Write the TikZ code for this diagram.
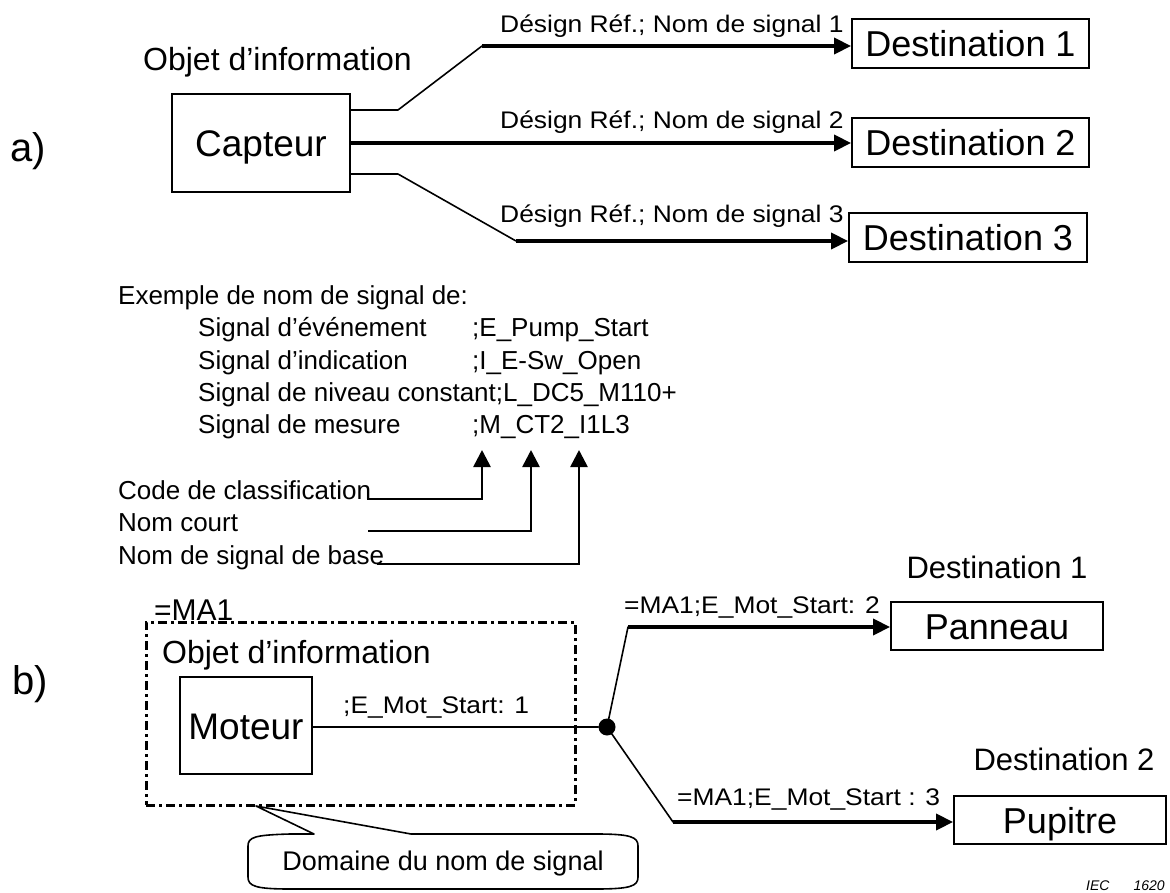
\documentclass[tikz,border=0pt]{standalone}
\usepackage{fontspec}
\setmainfont{Liberation Sans}
\newfontfamily\lblfont{Liberation Sans}[FakeStretch=1.1]
\usetikzlibrary{arrows.meta}
\newcommand\fsz[1]{\fontsize{#1}{#1}\selectfont}

\begin{document}
\begin{tikzpicture}[x=1pt,y=-1pt,
  blk/.style={draw, line width=1.8pt, inner sep=0pt, text height=27pt, text depth=0pt, font=\fsz{36}},
  txt/.style={inner sep=0pt, anchor=base west},
  sig/.style={txt, font=\lblfont\fsz{24}},
  body/.style={txt, font=\fsz{26}},
  head/.style={inner sep=0pt, anchor=base, font=\fsz{31}},
  wire/.style={line width=1.6pt, line cap=round, line join=round},
  feed/.style={line width=3.5pt, -{Triangle[length=17pt,width=16pt]}},
  pointer/.style={line width=2.6pt, -{Triangle[length=17pt,width=17pt]}},
  namebox/.style={draw, line width=3pt, dash pattern=on 9pt off 4pt on 3pt off 4pt, inner sep=0pt},
  junction/.style={circle, fill=black, inner sep=0pt, minimum size=17pt}]
\useasboundingbox (0,0) rectangle (1170,893);

% ---------- a) sensor fanning out to three destinations ----------
\node[txt, font=\fsz{40}] (la) at (10,162) {a)};
\node[txt, font=\fsz{32}] (obj1) at (143,71) {Objet d’information};
\node[blk, minimum width=178pt, minimum height=98pt, font=\fsz{37}] (cap) at (261,143) {Capteur};

\node[blk, minimum width=237pt, minimum height=49pt] (d1) at (970.5,43.5) {Destination 1};
\node[blk, minimum width=237pt, minimum height=49pt] (d2) at (970.5,142.5) {Destination 2};
\node[blk, minimum width=238pt, minimum height=49pt] (d3) at (968,237.5) {Destination 3};

\coordinate (t1) at (398,110);
\coordinate (t2) at (482,46);
\coordinate (b1) at (398,174);
\coordinate (b2) at (516,241);

\draw[wire] (cap.east |- t1) -- (t1) -- (t2);
\draw[feed] (t2) -- (t2 -| d1.west);
\draw[feed] (cap.east) -- (cap.east -| d2.west);
\draw[wire] (cap.east |- b1) -- (b1) -- (b2);
\draw[feed] (b2) -- (b2 -| d3.west);

\node[sig] (s1) at (500,33) {Désign Réf.; Nom de signal 1};
\node[sig] (s2) at (500,129) {Désign Réf.; Nom de signal 2};
\node[sig] (s3) at (500,223) {Désign Réf.; Nom de signal 3};

% ---------- signal name examples ----------
\node[body] (ex) at (118,305) {Exemple de nom de signal de:};
\node[body] (r1) at (198,337) {Signal d’événement};
\node[body] (c1) at (472,337) {;E\_Pump\_Start};
\node[body] (r2) at (198,369) {Signal d’indication};
\node[body] (c2) at (472,369) {;I\_E-Sw\_Open};
\node[body] (r3) at (198,401) {Signal de niveau constant;L\_DC5\_M110+};
\node[body] (r4) at (198,433) {Signal de mesure};
\node[body] (c4) at (472,433) {;M\_CT2\_I1L3};

\coordinate (p1) at (482,450);
\coordinate (p2) at (531,450);
\coordinate (p3) at (579,450);

\node[body] (k1) at (118,499) {Code de classification};
\node[body] (k2) at (118,531) {Nom court};
\node[body] (k3) at (118,564) {Nom de signal de base};
\coordinate (q2) at (368,531);

\draw[pointer] ([xshift=-4pt]k1.base east) -- (p1 |- k1.base) -- (p1);
\draw[pointer] (q2) -- (p2 |- q2) -- (p2);
\draw[pointer] ([xshift=-7pt]k3.base east) -- (p3 |- k3.base) -- (p3);

% ---------- b) motor signal inside its name domain ----------
\node[txt, font=\fsz{40}] (lb) at (12,694) {b)};
\node[txt, font=\fsz{30}] (ma) at (154,620) {=MA1};
\node[namebox, minimum width=429pt, minimum height=183pt] (dom) at (360.5,713.5) {};
\node[txt, font=\fsz{32}] (obj2) at (162,663) {Objet d’information};
\node[blk, minimum width=132pt, minimum height=97pt, font=\fsz{37}] (mot) at (246,725.5) {Moteur};

\node[junction] (j) at (607,727) {};
\draw[wire] (mot.east |- j) -- (j);
\node[sig] (m1) at (343,713) {;E\_Mot\_Start: 1};

\node[blk, minimum width=212pt, minimum height=48pt] (pan) at (997,626) {Panneau};
\node[blk, minimum width=212pt, minimum height=48pt] (pup) at (1060,820) {Pupitre};
\node[head] (h1) at (997,578) {Destination 1};
\node[head] (h2) at (1064,770) {Destination 2};

\coordinate (u1) at (628,627);
\coordinate (w1) at (673,822);
\draw[wire] (j.center) -- (u1);
\draw[feed] (u1) -- (u1 -| pan.west);
\draw[wire] (j.center) -- (w1);
\draw[feed] (w1) -- (w1 -| pup.west);

\node[sig] (m2) at (624,613) {=MA1;E\_Mot\_Start: 2};
\node[sig] (m3) at (677,805) {=MA1;E\_Mot\_Start : 3};

% callout naming the domain
\coordinate (apex) at (256,806);
\draw[wire] (314,834) -- (290,834) .. controls (255,835) and (248,837) .. (248,846)
  -- (248,877) .. controls (248,886) and (255,889) .. (290,889)
  -- (596,889) .. controls (631,889) and (638,886) .. (638,877)
  -- (638,846) .. controls (638,837) and (631,834) .. (596,834)
  -- (411,834) -- (apex) -- cycle;
\node[inner sep=0pt, anchor=base, font=\fsz{27}] (dn) at (443,870) {Domaine du nom de signal};

\node[txt, font=\itshape\fsz{14}] (iec) at (1086,890) {IEC\hspace{24pt}1620};
\end{tikzpicture}
\end{document}
